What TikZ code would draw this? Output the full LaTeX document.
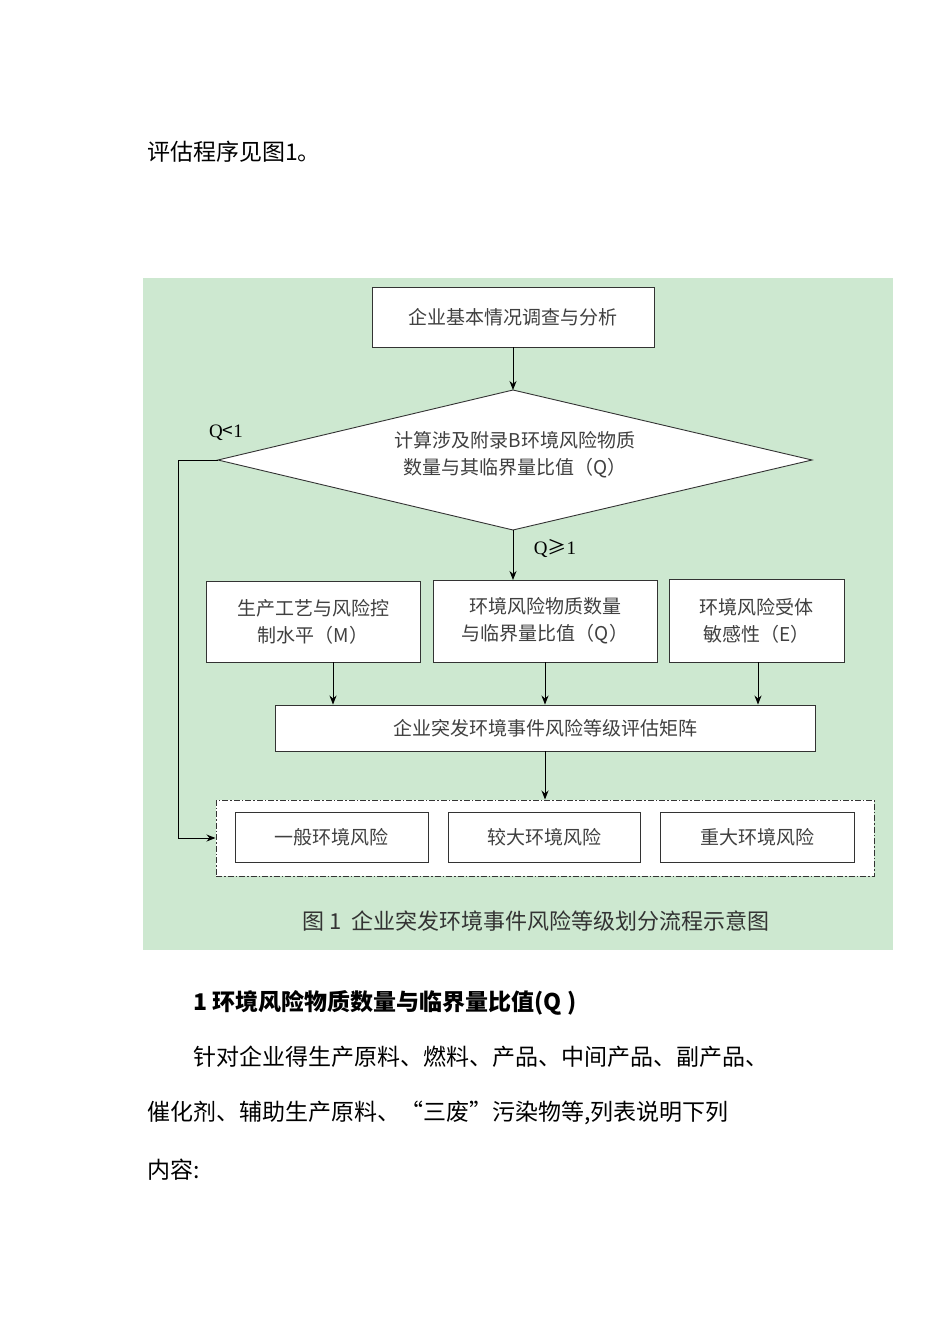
\documentclass[tikz,border=0pt]{standalone}
\usepackage{fontspec}
\setmainfont{Liberation Serif}
\newfontfamily\cjk{Noto Sans CJK SC}
\usetikzlibrary{shapes.geometric,arrows.meta}
\definecolor{bggreen}{HTML}{CDE8D0}
\tikzset{
  x=1pt,y=-1pt,
  boxn/.style={draw=black!80,fill=white,line width=0.9pt,inner sep=0pt,font=\cjk\fontsize{19}{27}\selectfont,text=black!75,align=center},
  arr/.style={-{Stealth[length=9pt,width=7pt]},line width=1pt},
  body/.style={anchor=west,inner sep=0pt,font=\cjk\fontsize{23}{28}\selectfont}
}
\begin{document}
\begin{tikzpicture}
\useasboundingbox (0,0) rectangle (950,1344);
\fill[white] (0,0) rectangle (950,1344);
\node[body] (t0) at (147,152) {评估程序见图1。};
\fill[bggreen] (143,278) rectangle (893,950);
\node[boxn,minimum width=282pt,minimum height=60pt] (b1) at (513,317) {企业基本情况调查与分析};
\coordinate (dT) at (513,390);
\coordinate (dB) at (513,530);
\coordinate (dL) at (218,460);
\coordinate (dR) at (812,460);
\draw[draw=black!80,fill=white,line width=0.9pt] (dT) -- (dR) -- (dB) -- (dL) -- cycle;
\node[font=\cjk\fontsize{19}{27}\selectfont,text=black!75,align=center] (d) at (515,455) {计算涉及附录B环境风险物质\\数量与其临界量比值（Q）};
\node[boxn,minimum width=214pt,minimum height=81pt] (m) at (313,621.5) {生产工艺与风险控\\制水平（M）};
\node[boxn,minimum width=224pt,minimum height=82pt] (q) at (545,621) {环境风险物质数量\\与临界量比值（Q）};
\node[boxn,minimum width=175pt,minimum height=83pt] (e) at (756.5,620.5) {环境风险受体\\敏感性（E）};
\node[boxn,minimum width=540pt,minimum height=46pt] (mat) at (545,728) {企业突发环境事件风险等级评估矩阵};
\node[draw=black!80,fill=white,line width=1pt,dash pattern=on 6pt off 2pt on 1.5pt off 2pt,minimum width=658pt,minimum height=76pt,inner sep=0pt] (g) at (545,838) {};
\node[boxn,minimum width=193pt,minimum height=50pt] (r1) at (331.5,837) {一般环境风险};
\node[boxn,minimum width=192pt,minimum height=50pt] (r2) at (544,837) {较大环境风险};
\node[boxn,minimum width=194pt,minimum height=50pt] (r3) at (757,837) {重大环境风险};
\node[font=\cjk\fontsize{22}{26}\selectfont,text=black!80] (cap) at (536,921) {图 1\ \ 企业突发环境事件风险等级划分流程示意图};
\draw[arr] (b1.south) -- (dT);
\coordinate (qT) at (513,580);
\draw[arr] (dB) -- (qT);
\node[font=\fontsize{19}{22}\selectfont] (qg) at (555,548) {Q\cjk ≥\rmfamily 1};
\coordinate (lc) at (178,460);
\draw[arr] (dL) -- (lc) |- (g.west);
\node[font=\fontsize{19}{22}\selectfont] (ql) at (226,433) {Q\cjk <\rmfamily 1};
\draw[arr] (m.south -| 333,0) -- (mat.north -| 333,0);
\draw[arr] (q.south) -- (mat.north -| q.south);
\draw[arr] (e.south -| 758,0) -- (mat.north -| 758,0);
\draw[arr] (mat.south) -- (g.north);
\node[body,font=\cjk\bfseries\fontsize{23}{28}\selectfont] (h1) at (193,1003) {1\ 环境风险物质数量与临界量比值(Q )};
\node[body] (p1) at (193,1057) {针对企业得生产原料、燃料、产品、中间产品、副产品、};
\node[body] (p2) at (147,1113) {催化剂、辅助生产原料、“三废”污染物等,列表说明下列};
\node[body] (p3) at (147,1170) {内容:};
\end{tikzpicture}
\end{document}
